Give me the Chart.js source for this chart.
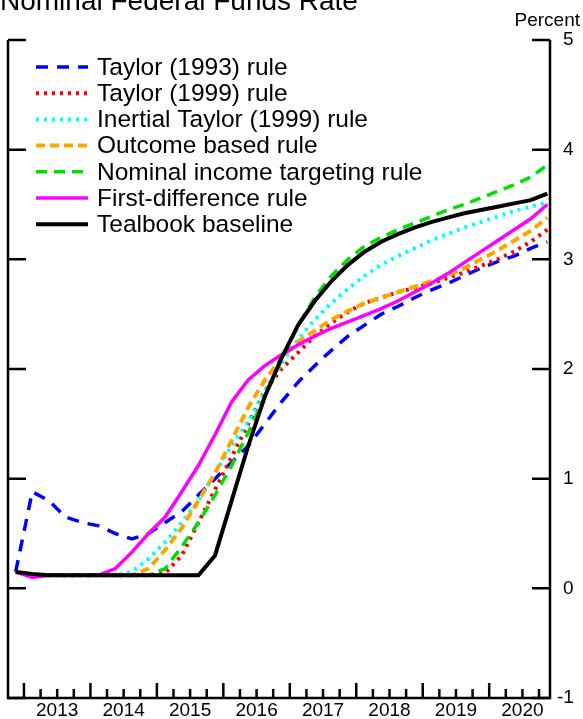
<!DOCTYPE html>
<html><head><meta charset="utf-8">
<script src="https://cdn.jsdelivr.net/npm/chart.js@4"></script>
<style>html,body{margin:0;padding:0;background:#fff}#w{width:583px;height:719px}</style>
</head><body><div id="w"><canvas id="c"></canvas></div>
<script>
const startYear = 2012.875; // mid of 2012Q4
const taylor1993 = [0.15,0.88,0.8,0.65,0.6,0.57,0.5,0.45,0.5,0.6,0.7,0.85,1.0,1.15,1.3,1.5,1.7,1.88,2.03,2.17,2.3,2.4,2.5,2.57,2.65,2.72,2.78,2.85,2.92,2.98,3.03,3.1,3.16];
const taylor1999 = [0.15,0.12,0.12,0.12,0.12,0.12,0.12,0.12,0.12,0.14,0.3,0.6,0.9,1.2,1.5,1.8,2.0,2.15,2.3,2.42,2.52,2.6,2.65,2.7,2.74,2.78,2.83,2.88,2.94,3.0,3.07,3.16,3.27];
const inertial1999 = [0.15,0.12,0.12,0.12,0.12,0.12,0.12,0.15,0.27,0.42,0.6,0.8,1.05,1.3,1.52,1.8,2.05,2.27,2.45,2.6,2.73,2.85,2.95,3.03,3.1,3.17,3.23,3.29,3.34,3.39,3.44,3.48,3.52];
const outcomeBased = [0.15,0.12,0.12,0.12,0.12,0.12,0.12,0.12,0.18,0.35,0.55,0.8,1.05,1.35,1.65,1.9,2.1,2.25,2.35,2.45,2.53,2.6,2.65,2.7,2.75,2.8,2.85,2.92,3.0,3.08,3.17,3.26,3.38];
const nominalIncome = [0.15,0.12,0.12,0.12,0.12,0.12,0.12,0.12,0.12,0.18,0.38,0.6,0.85,1.12,1.42,1.75,2.08,2.4,2.65,2.85,3.0,3.12,3.2,3.27,3.33,3.39,3.45,3.5,3.56,3.62,3.68,3.75,3.86];
const firstDiff = [0.15,0.1,0.12,0.12,0.12,0.12,0.18,0.33,0.5,0.65,0.88,1.12,1.4,1.7,1.9,2.03,2.13,2.22,2.3,2.37,2.43,2.49,2.55,2.62,2.7,2.78,2.87,2.97,3.07,3.17,3.27,3.37,3.5];
const tealbook = [0.15,0.13,0.12,0.12,0.12,0.12,0.12,0.12,0.12,0.12,0.12,0.12,0.3,0.8,1.3,1.75,2.1,2.4,2.62,2.8,2.95,3.07,3.16,3.23,3.29,3.34,3.38,3.42,3.45,3.48,3.51,3.54,3.6];
const yearLabels = ["2013","2014","2015","2016","2017","2018","2019","2020"];
const yTickLabels = ["-1","0","1","2","3","4","5"];
const legendLabels = ["Taylor (1993) rule","Taylor (1999) rule","Inertial Taylor (1999) rule","Outcome based rule","Nominal income targeting rule","First-difference rule","Tealbook baseline"];

const pts = arr => arr.map((v,i)=>({x:startYear+i*0.25,y:v}));
const specs = [
 [taylor1993,'#0000ff',[12,9],3.5],
 [taylor1999,'#ff0000',[3,5],4],
 [inertial1999,'#00ffff',[3,5],4],
 [outcomeBased,'#ffa500',[9,5],4],
 [nominalIncome,'#00e000',[11,7],3.5],
 [firstDiff,'#ff00ff',[],3.5],
 [tealbook,'#000000',[],4]
];
const datasets = specs.map((s,k)=>({label:legendLabels[k],data:pts(s[0]),borderColor:s[1],borderDash:s[2],borderWidth:s[3],pointRadius:0,tension:0,fill:false,order:7-k}));

const deco = {id:'deco',afterDraw(ch){
  const c=ch.ctx,a=ch.chartArea,xs=ch.scales.x,ys=ch.scales.y;
  c.save();c.strokeStyle='#000';c.fillStyle='#000';c.lineWidth=2.5;c.setLineDash([]);
  c.beginPath();c.moveTo(a.left,a.top);c.lineTo(a.left,a.bottom);c.lineTo(a.right,a.bottom);c.lineTo(a.right,a.top);c.stroke();
  c.font='19px "Liberation Sans", Arial, sans-serif';c.textBaseline='middle';c.textAlign='left';
  yTickLabels.forEach(t=>{const y=ys.getPixelForValue(+t);
    c.beginPath();c.moveTo(a.left,y);c.lineTo(a.left+18,y);c.moveTo(a.right-18,y);c.lineTo(a.right,y);c.stroke();
    c.fillText(t,a.right+(t.length>1?7:13),y);});
  c.textAlign='right';c.textBaseline='alphabetic';c.fillText('Percent',580,26);
  for(let q=0;q<32;q++){const v=2013+q*0.25;const x=xs.getPixelForValue(v);
    c.beginPath();c.moveTo(x,a.bottom);c.lineTo(x,a.bottom-(q%4===0?15:9));c.stroke();}
  c.textAlign='center';c.textBaseline='alphabetic';
  yearLabels.forEach(l=>{c.fillText(l,xs.getPixelForValue(+l+0.5),716);});
  c.textAlign='left';c.font='28px "Liberation Sans", Arial, sans-serif';c.fillText('Nominal Federal Funds Rate',0,10);
  c.font='24.5px "Liberation Sans", Arial, sans-serif';c.textBaseline='middle';
  ch.data.datasets.forEach((d,k)=>{const y=67+k*26.2;
    c.strokeStyle=d.borderColor;c.lineWidth=d.borderWidth;c.setLineDash(d.borderDash);
    c.beginPath();c.moveTo(36,y);c.lineTo(88,y);c.stroke();
    c.fillStyle='#000';c.fillText(d.label,97,y+1);});
  c.restore();}};

new Chart(document.getElementById('c'),{type:'line',data:{datasets},
 options:{responsive:true,maintainAspectRatio:false,animation:false,
  layout:{padding:{left:8,right:33,top:40,bottom:21}},
  plugins:{legend:{display:false},tooltip:{enabled:false}},
  scales:{x:{type:'linear',min:2012.76,max:2020.915,display:false},
          y:{min:-1,max:5,display:false}}},
 plugins:[deco]});
</script></body></html>
